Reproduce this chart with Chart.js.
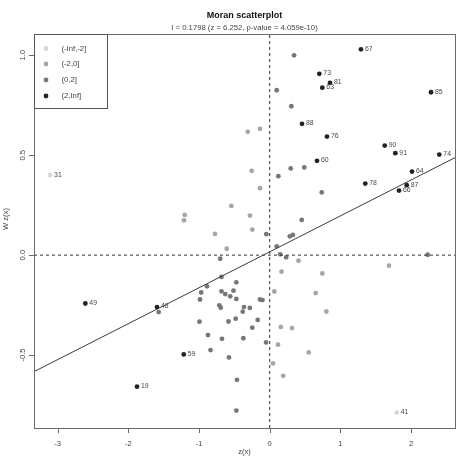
<!DOCTYPE html>
<html><head><meta charset="utf-8">
<script src="https://cdn.jsdelivr.net/npm/chart.js@4/dist/chart.umd.min.js"></script>
<style>html,body{margin:0;padding:0;background:#fff;}#wrap{width:467px;height:470px;}</style>
</head><body><div id="wrap"><canvas id="c" width="467" height="470"></canvas></div>
<script>
const classLabels = ['(-Inf,-2]', '(-2,0]', '(0,2]', '(2,Inf]'];
const classColors = ['#d8d8d8', '#a6a6a6', '#777777', '#222222'];

const veryLowX = [-3.107, 1.796];
const veryLowY = [0.400, -0.788];
const veryLowLab = ['31', '41'];

const lowX = [-0.311,-0.137,-0.255,-0.137,-0.279,-0.246,0.407,1.687,0.167,0.744,0.065,0.651,0.801,0.157,0.315,0.117,0.552,0.047,0.191,-0.543,-1.202,-1.212,-0.774,-0.608];
const lowY = [0.617,0.632,0.422,0.335,0.198,0.128,-0.028,-0.053,-0.083,-0.092,-0.182,-0.190,-0.282,-0.359,-0.365,-0.448,-0.487,-0.542,-0.604,0.246,0.201,0.174,0.106,0.032];

const midX = [0.344,0.099,0.306,0.297,0.489,0.122,0.736,0.453,-0.048,0.284,0.327,0.099,0.149,0.233,2.235,-0.137,-0.102,-0.364,-0.281,-0.382,-0.170,-0.246,-0.373,-0.052,-0.700,-0.682,-0.472,-0.887,-0.969,-0.682,-0.629,-0.512,-0.559,-0.472,-0.986,-0.713,-0.693,-0.993,-0.583,-0.481,-0.873,-0.675,-0.837,-0.576,-0.463,-0.472,-1.570];
const midY = [1.000,0.825,0.745,0.434,0.439,0.395,0.314,0.176,0.105,0.094,0.101,0.044,0.004,-0.011,0.002,-0.222,-0.225,-0.260,-0.264,-0.283,-0.324,-0.363,-0.416,-0.437,-0.018,-0.109,-0.136,-0.156,-0.187,-0.181,-0.195,-0.178,-0.206,-0.219,-0.222,-0.251,-0.263,-0.333,-0.332,-0.318,-0.400,-0.419,-0.475,-0.512,-0.624,-0.778,-0.285];

const highX = [1.291,0.702,0.853,0.744,2.282,0.457,0.810,1.627,1.777,2.399,0.669,2.013,1.352,1.938,1.829,-2.608,-1.594,-1.216,-1.877];
const highY = [1.030,0.907,0.862,0.838,0.815,0.657,0.593,0.548,0.510,0.503,0.472,0.418,0.358,0.350,0.323,-0.242,-0.260,-0.497,-0.658];
const highLab = ['67','73','81','63','85','88','76','90','91','74','60','64','78','87','66','49','48','59','19'];

const xTicks = [-3, -2, -1, 0, 1, 2];
const xTickLabels = ['-3', '-2', '-1', '0', '1', '2'];
const yTicks = [-0.5, 0.0, 0.5, 1.0];
const yTickLabels = ['-0.5', '0.0', '0.5', '1.0'];
const xRange = [-3.334, 2.621];
const yRange = [-0.865, 1.1065];
const slope = 0.1798, intercept = 0.0165;

const titleText = 'Moran scatterplot';
const subText = 'I = 0.1798 (z = 6.252, p-value = 4.059e-10)';
const xTitle = 'z(x)';
const yTitle = 'W z(x)';

const FONT = '"Liberation Sans", Arial, Helvetica, sans-serif';
const PR = 2.4;

function pts(xs, ys) { return xs.map((x, i) => ({x: x, y: ys[i]})); }

const pointDs = [
  {data: pts(veryLowX, veryLowY), lab: veryLowLab, color: classColors[0]},
  {data: pts(lowX, lowY), lab: null, color: classColors[1]},
  {data: pts(midX, midY), lab: null, color: classColors[2]},
  {data: pts(highX, highY), lab: highLab, color: classColors[3]}
];

const lineDs = [
  {type: 'line', data: [{x: xRange[0], y: intercept + slope * xRange[0]}, {x: xRange[1], y: intercept + slope * xRange[1]}],
   borderColor: '#3a3a3a', borderWidth: 1, pointRadius: 0, fill: false, tension: 0},
  {type: 'line', data: [{x: xRange[0], y: 0}, {x: xRange[1], y: 0}],
   borderColor: '#333', borderWidth: 1, borderDash: [3, 3], pointRadius: 0, fill: false},
  {type: 'line', data: [{x: 0, y: yRange[0]}, {x: 0, y: yRange[1]}],
   borderColor: '#333', borderWidth: 1, borderDash: [3, 3], pointRadius: 0, fill: false}
];

const datasets = lineDs.concat(pointDs.map(d => ({
  type: 'scatter', data: d.data, backgroundColor: d.color, borderColor: d.color,
  pointRadius: PR, borderWidth: 0, pointHoverRadius: PR
})));

const decor = {
  id: 'decor',
  afterDraw(chart) {
    const ctx = chart.ctx, ca = chart.chartArea;
    const xs = chart.scales.x, ys = chart.scales.y;
    ctx.save();
    ctx.strokeStyle = '#6a6a6a'; ctx.lineWidth = 1;
    ctx.strokeRect(Math.round(ca.left) + 0.5, Math.round(ca.top) + 0.5, Math.round(ca.right - ca.left), Math.round(ca.bottom - ca.top));
    ctx.beginPath();
    xTicks.forEach(v => { const px = Math.round(xs.getPixelForValue(v)) + 0.5; ctx.moveTo(px, ca.bottom); ctx.lineTo(px, ca.bottom + 5); });
    yTicks.forEach(v => { const py = Math.round(ys.getPixelForValue(v)) + 0.5; ctx.moveTo(ca.left, py); ctx.lineTo(ca.left - 5, py); });
    ctx.stroke();
    ctx.fillStyle = '#444';
    ctx.font = '7.6px ' + FONT;
    ctx.textAlign = 'center'; ctx.textBaseline = 'middle';
    xTicks.forEach((v, i) => ctx.fillText(xTickLabels[i], xs.getPixelForValue(v), 443.5));
    yTicks.forEach((v, i) => {
      ctx.save(); ctx.translate(22.5, ys.getPixelForValue(v)); ctx.rotate(-Math.PI / 2);
      ctx.fillText(yTickLabels[i], 0, 0); ctx.restore();
    });
    ctx.fillText(xTitle, (ca.left + ca.right) / 2, 452);
    ctx.save(); ctx.translate(5.5, 219); ctx.rotate(-Math.PI / 2); ctx.fillText(yTitle, 0, 0); ctx.restore();
    ctx.fillStyle = '#111';
    ctx.font = 'bold 9px ' + FONT;
    ctx.fillText(titleText, (ca.left + ca.right) / 2, 16);
    ctx.fillStyle = '#444';
    ctx.font = '7.7px ' + FONT;
    ctx.fillText(subText, (ca.left + ca.right) / 2, 27.5);
    ctx.strokeStyle = '#555';
    ctx.strokeRect(Math.round(ca.left) + 0.5, Math.round(ca.top) + 0.5, 73, 74);
    const rowY = [48.5, 64, 80, 96];
    ctx.textAlign = 'left';
    classLabels.forEach((t, i) => {
      ctx.fillStyle = classColors[i];
      ctx.beginPath(); ctx.arc(46, rowY[i], PR, 0, Math.PI * 2); ctx.fill();
      ctx.fillStyle = '#444';
      ctx.fillText(t, 61.5, rowY[i]);
    });
    ctx.font = '6.9px ' + FONT;
    ctx.fillStyle = '#4a4a4a';
    pointDs.forEach((d, di) => {
      if (!d.lab) return;
      const meta = chart.getDatasetMeta(lineDs.length + di);
      meta.data.forEach((el, j) => {
        if (d.lab[j]) ctx.fillText(d.lab[j], el.x + 4, el.y - 0.5);
      });
    });
    ctx.restore();
  }
};

new Chart(document.getElementById('c'), {
  type: 'scatter',
  data: {datasets: datasets},
  options: {
    responsive: false, animation: false, devicePixelRatio: 1,
    layout: {padding: {left: 34, top: 34, right: 12, bottom: 42}},
    scales: {
      x: {type: 'linear', min: xRange[0], max: xRange[1], display: false},
      y: {type: 'linear', min: yRange[0], max: yRange[1], display: false}
    },
    plugins: {legend: {display: false}, tooltip: {enabled: false}, title: {display: false}}
  },
  plugins: [decor]
});
</script></body></html>
